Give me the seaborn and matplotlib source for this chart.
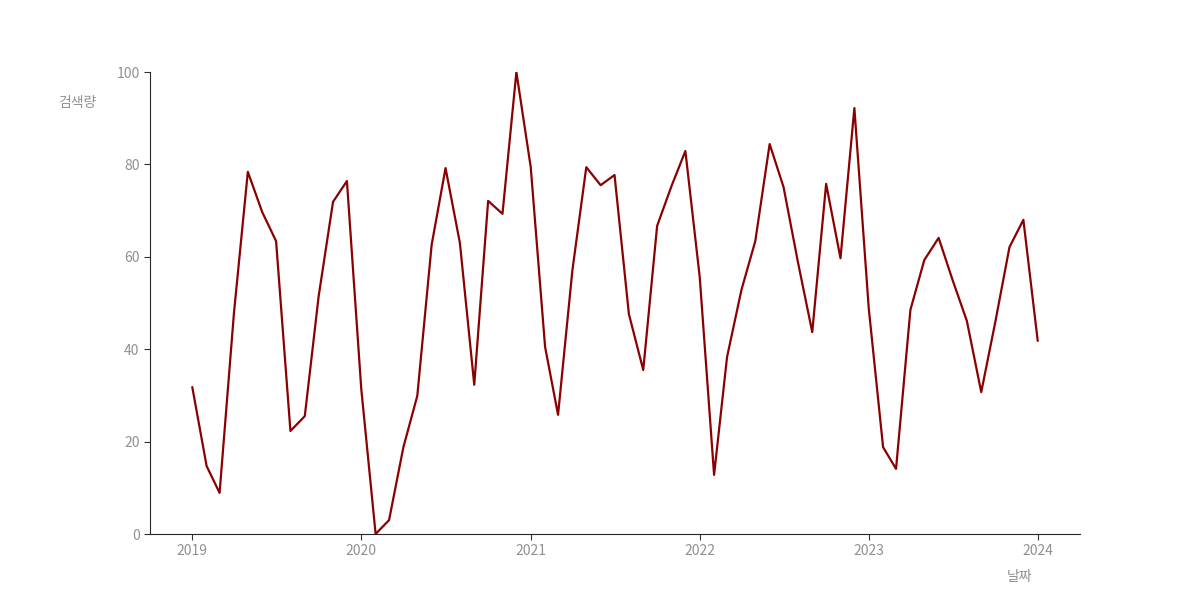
import pandas as pd
import matplotlib
matplotlib.use("Agg")
import matplotlib.pyplot as plt
import seaborn as sns

# monthly search volume, 2019-01 .. 2024-01
months = pd.date_range("2019-01-01", "2024-01-01", freq="MS")
volume = [31.8, 14.7, 8.9, 47.8, 78.4, 69.7, 63.4, 22.3, 25.5, 51.5, 71.9, 76.4,
          31.4, 0.0, 3.0, 18.8, 29.9, 62.6, 79.2, 63.0, 32.3, 72.1, 69.3, 100.0,
          79.4, 40.5, 25.8, 57.1, 79.4, 75.5, 77.7, 47.6, 35.5, 66.7, 75.3, 82.9,
          55.6, 12.8, 38.3, 52.8, 63.4, 84.4, 75.1, 58.9, 43.7, 75.8, 59.7, 92.2,
          48.9, 18.8, 14.1, 48.5, 59.3, 64.1, 55.0, 46.1, 30.7, 45.7, 62.1, 68.0,
          41.8]
year_ticks = pd.to_datetime(["2019-01-01", "2020-01-01", "2021-01-01",
                             "2022-01-01", "2023-01-01", "2024-01-01"])
year_labels = ["2019", "2020", "2021", "2022", "2023", "2024"]

df = pd.DataFrame({"날짜": months, "검색량": volume})

sns.set_style("ticks")
plt.rcParams["font.family"] = ["Noto Sans CJK KR", "DejaVu Sans"]

fig, ax = plt.subplots(figsize=(12, 6), dpi=100)
sns.lineplot(data=df, x="날짜", y="검색량", color="#8b0000", linewidth=1.6, ax=ax)

ax.set_ylim(0, 100)
ax.set_yticks([0, 20, 40, 60, 80, 100])
ax.set_xticks(year_ticks)
ax.set_xticklabels(year_labels)
ax.tick_params(labelcolor="#909090", labelsize=10, length=4, color="#333333")

sns.despine(ax=ax)

ax.set_ylabel("검색량", rotation=0, color="#909090", fontsize=10)
ax.yaxis.set_label_coords(-0.078, 0.918)
ax.set_xlabel("날짜", color="#909090", fontsize=10)
ax.xaxis.set_label_coords(0.935, -0.078)

fig.subplots_adjust(left=0.125, right=0.9, bottom=0.11, top=0.88)
fig.savefig("out.png", dpi=100)
